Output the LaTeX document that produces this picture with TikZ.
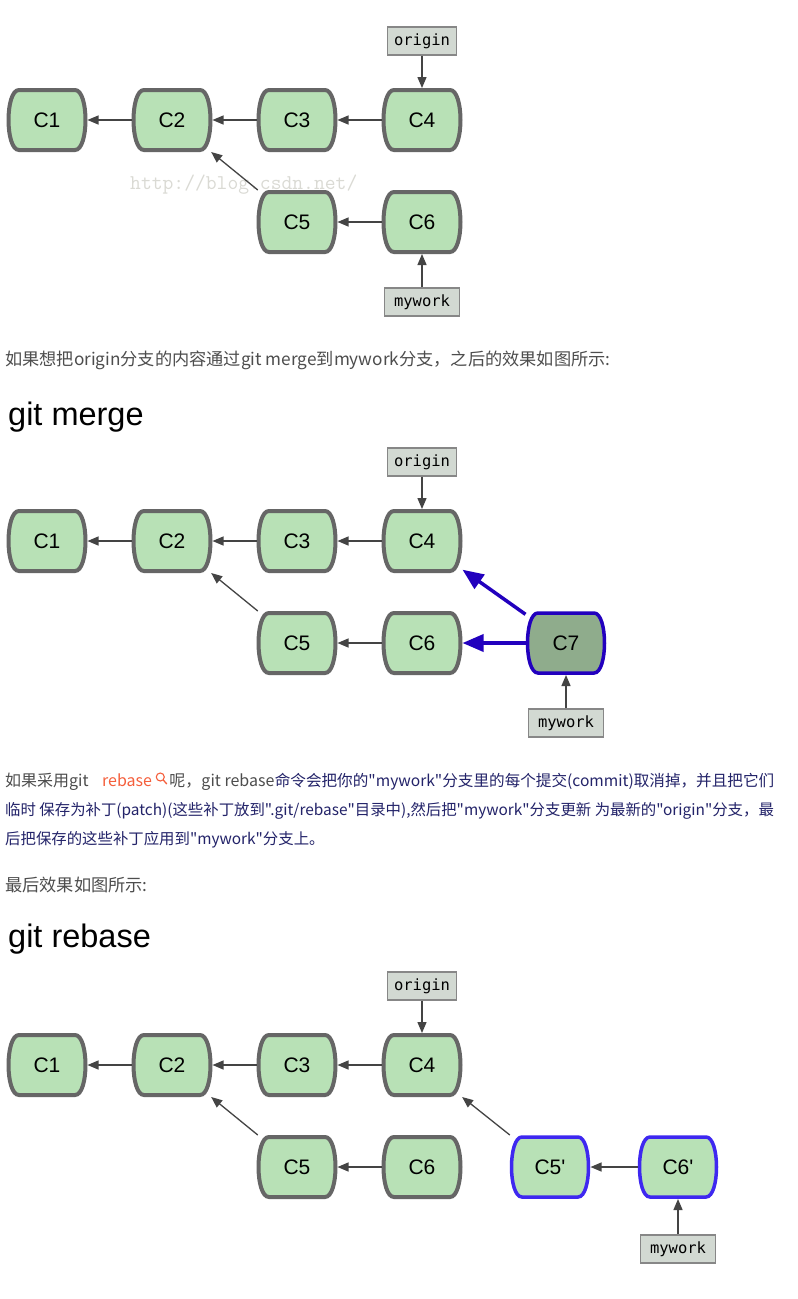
\documentclass[tikz,border=0pt]{standalone}
\usepackage{fontspec}
\setmainfont{Liberation Sans}
\newfontfamily\cjk{Noto Sans CJK SC}
\newfontfamily\branchfont{DejaVu Sans Mono}
\usetikzlibrary{shapes,arrows.meta}
\definecolor{commitfill}{RGB}{184,225,182}
\definecolor{commitdraw}{RGB}{102,102,102}
\definecolor{mergefill}{RGB}{143,172,140}
\definecolor{mergeblue}{RGB}{34,0,190}
\definecolor{rebaseblue}{RGB}{62,40,240}
\definecolor{branchfill}{RGB}{210,217,210}
\definecolor{branchdraw}{RGB}{135,135,135}
\definecolor{linegray}{RGB}{68,68,68}
\definecolor{textgray}{RGB}{77,77,77}
\definecolor{linkorange}{RGB}{245,95,60}
\definecolor{textnavy}{RGB}{35,35,105}
\definecolor{markgray}{RGB}{218,218,212}
% commit outline: straight top and bottom, bulging sides
\newcommand{\commitoutline}[3]{%
    \filldraw [draw=#1, fill=#2, line width=#3]
        (path picture bounding box.center) ++(-28,30) -- ++(56,0)
        .. controls +(7,0) and +(0,15) .. ++(10.5,-30)
        .. controls +(0,-15) and +(7,0) .. ++(-10.5,-30) -- ++(-56,0)
        .. controls +(-7,0) and +(0,-15) .. ++(-10.5,30)
        .. controls +(0,15) and +(-7,0) .. ++(10.5,30) -- cycle;}
\tikzstyle{commit} = [rectangle, minimum width=81pt, minimum height=64pt, inner sep=0pt,
    outer sep=0pt, font=\fontsize{21pt}{21pt}\selectfont,
    path picture={\commitoutline{commitdraw}{commitfill}{4pt}}]
\tikzstyle{merged} = [commit, path picture={\commitoutline{mergeblue}{mergefill}{3.5pt}}]
\tikzstyle{rebased} = [commit, path picture={\commitoutline{rebaseblue}{commitfill}{3.5pt}}]
\tikzstyle{branch} = [rectangle, draw=branchdraw, line width=1.2pt, fill=branchfill,
    minimum width=69pt, minimum height=28pt, inner sep=0pt,
    font=\branchfont\fontsize{15.5pt}{16pt}\selectfont]
\tikzstyle{line} = [draw=linegray, line width=1.3pt, -{Triangle[length=11pt,width=9pt]}]
\tikzstyle{mergeline} = [draw=mergeblue, line width=3.5pt, -{Triangle[length=21pt,width=17pt]}]
\tikzstyle{para} = [anchor=base west, inner sep=0pt, text=textgray,
    font=\cjk\fontsize{16pt}{20pt}\selectfont]
\tikzstyle{wide} = [para, font=\cjk\fontsize{17.2pt}{20pt}\selectfont]
\tikzstyle{navy} = [para, text=textnavy, font=\cjk\fontsize{15.6pt}{18pt}\selectfont]
\tikzstyle{heading} = [anchor=base west, inner sep=0pt, font=\fontsize{32.5pt}{32.5pt}\selectfont]

\begin{document}
\begin{tikzpicture}[x=1pt, y=-1pt, node distance=125pt]
    \useasboundingbox [fill=white] (0,0) rectangle (798,1299);
    % Place nodes: history before
    \node [anchor=base west, inner sep=0pt, text=markgray,
        font=\ttfamily\fontsize{21pt}{21pt}\selectfont] (mark) at (130,189) {http://blog.csdn.net/};
    \node [commit] (a1) at (47,120) {C1};
    \node [commit, right of=a1] (a2) {C2};
    \node [commit, right of=a2] (a3) {C3};
    \node [commit, right of=a3] (a4) {C4};
    \node [commit, below of=a3, node distance=102pt] (a5) {C5};
    \node [commit, right of=a5] (a6) {C6};
    \node [branch, above of=a4, node distance=79pt] (aorigin) {origin};
    \node [branch, minimum width=75pt, below of=a6, node distance=80pt] (amywork) {mywork};
    % Draw edges
    \path [line] (a2) -- (a1);
    \path [line] (a3) -- (a2);
    \path [line] (a4) -- (a3);
    \path [line] (a5) -- (a2);
    \path [line] (a6) -- (a5);
    \path [line] (aorigin) -- (a4);
    \path [line] (amywork) -- (a6);

    % Text
    \node [wide] (intro) at (5,365) {如果想把origin分支的内容通过git merge到mywork分支，之后的效果如图所示:};
    \node [heading] (hmerge) at (8,425) {git merge};

    % Place nodes: after merge
    \node [commit] (b1) at (47,541) {C1};
    \node [commit, right of=b1] (b2) {C2};
    \node [commit, right of=b2] (b3) {C3};
    \node [commit, right of=b3] (b4) {C4};
    \node [commit, below of=b3, node distance=102pt] (b5) {C5};
    \node [commit, right of=b5] (b6) {C6};
    \node [merged, right of=b6, node distance=144pt] (b7) {C7};
    \node [branch, above of=b4, node distance=79pt] (borigin) {origin};
    \node [branch, minimum width=75pt, below of=b7, node distance=80pt] (bmywork) {mywork};
    % Draw edges
    \path [line] (b2) -- (b1);
    \path [line] (b3) -- (b2);
    \path [line] (b4) -- (b3);
    \path [line] (b5) -- (b2);
    \path [line] (b6) -- (b5);
    \path [mergeline] (b7) -- (b4);
    \path [mergeline] (b7) -- (b6);
    \path [line] (borigin) -- (b4);
    \path [line] (bmywork) -- (b7);

    % Text
    \node [para] (rb1) at (5,786) {如果采用git};
    \node [para, text=linkorange] (rb2) at (102,786) {rebase};
    \draw [linkorange, line width=1.1pt] ([xshift=8pt,yshift=9pt]rb2.base east) coordinate (lens) circle (4pt);
    \draw [linkorange, line width=1.3pt] ([shift={(3,3)}]lens) -- ([shift={(6.5,7)}]lens);
    \node [para] (rb3) at ([xshift=17pt]rb2.base east) {呢，git rebase};
    \node [navy] (rb4) at (rb3.base east) {命令会把你的"mywork"分支里的每个提交(commit)取消掉，并且把它们};
    \node [navy, font=\cjk\fontsize{15.4pt}{18pt}\selectfont] (rb5) at (5,815) {临时 保存为补丁(patch)(这些补丁放到".git/rebase"目录中),然后把"mywork"分支更新 为最新的"origin"分支，最};
    \node [navy, font=\cjk\fontsize{15.4pt}{18pt}\selectfont] (rb6) at (5,844) {后把保存的这些补丁应用到"mywork"分支上。};
    \node [wide] (final) at (5,891) {最后效果如图所示:};
    \node [heading] (hrebase) at (8,947) {git rebase};

    % Place nodes: after rebase
    \node [commit] (c1) at (47,1065) {C1};
    \node [commit, right of=c1] (c2) {C2};
    \node [commit, right of=c2] (c3) {C3};
    \node [commit, right of=c3] (c4) {C4};
    \node [commit, below of=c3, node distance=102pt] (c5) {C5};
    \node [commit, right of=c5] (c6) {C6};
    \node [rebased, right of=c6, node distance=128pt] (c5r) {C5\textquotesingle};
    \node [rebased, right of=c5r, node distance=128pt] (c6r) {C6\textquotesingle};
    \node [branch, above of=c4, node distance=79pt] (corigin) {origin};
    \node [branch, minimum width=75pt, below of=c6r, node distance=82pt] (cmywork) {mywork};
    % Draw edges
    \path [line] (c2) -- (c1);
    \path [line] (c3) -- (c2);
    \path [line] (c4) -- (c3);
    \path [line] (c5) -- (c2);
    \path [line] (c6) -- (c5);
    \path [line] (c5r) -- (c4);
    \path [line] (c6r) -- (c5r);
    \path [line] (corigin) -- (c4);
    \path [line] (cmywork) -- (c6r);
\end{tikzpicture}
\end{document}
